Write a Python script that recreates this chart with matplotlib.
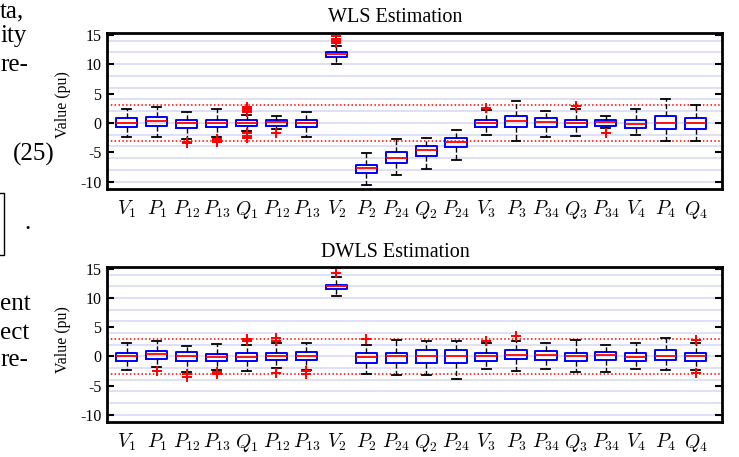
import matplotlib
matplotlib.use('Agg')
import matplotlib.pyplot as plt
from matplotlib.lines import Line2D

plt.rcParams['font.family'] = ['Liberation Serif', 'DejaVu Serif']
plt.rcParams['mathtext.fontset'] = 'cm'

labels = [r'$V_1$', r'$P_1$', r'$P_{12}$', r'$P_{13}$', r'$Q_1$', r'$P_{12}$', r'$P_{13}$',
          r'$V_2$', r'$P_2$', r'$P_{24}$', r'$Q_2$', r'$P_{24}$', r'$V_3$', r'$P_3$',
          r'$P_{34}$', r'$Q_3$', r'$P_{34}$', r'$V_4$', r'$P_4$', r'$Q_4$']

# WLS estimation box statistics
wls_med = [0, 0.4, 0, 0, 0, 0.15, 0, 11.7, -7.7, -6.0, -4.65, -3.3, 0, 0.4, 0.17, 0, 0.17, -0.17, 0, 0]
wls_q1 = [-0.68, -0.45, -0.9, -0.74, -0.45, -0.45, -0.74, 11.25, -8.6, -6.8, -5.7, -4.1, -0.68, -0.74, -0.68, -0.68, -0.45, -0.85, -1.0, -1.0]
wls_q3 = [0.85, 1.02, 0.57, 0.57, 0.57, 0.45, 0.57, 12.1, -7.1, -5.0, -4.0, -2.55, 0.57, 1.14, 0.85, 0.57, 0.57, 0.57, 1.14, 0.85]
wls_lo = [-2.4, -2.4, -2.8, -2.4, -1.3, -1.0, -2.4, 10.05, -10.5, -8.9, -7.8, -6.25, -2.0, -3.0, -2.45, -2.15, -0.85, -2.0, -3.0, -3.0]
wls_hi = [2.4, 2.7, 1.8, 2.4, 1.4, 1.1, 1.8, 13.1, -5.2, -2.8, -2.55, -1.25, 2.2, 3.7, 2.0, 2.3, 1.1, 2.4, 4.15, 3.1]
wls_fliers = [[], [], [-3.2, -3.4], [-2.7, -3.0, -3.3], [1.9, 2.1, 2.3, 2.5, 2.7, -1.8, -2.2, -2.6],
              [-1.7], [], [13.6, 13.9, 14.3, 14.8], [], [], [], [], [2.55], [], [], [2.95],
              [-1.7], [], [], []]

# DWLS estimation box statistics
dwls_med = [0, 0.34, 0, -0.17, -0.17, 0, 0, 12.0, -0.17, 0, 0, 0, 0, 0.23, 0.23, 0, 0.23, -0.17, 0.06, 0]
dwls_q1 = [-0.86, -0.5, -0.86, -0.8, -0.86, -0.69, -0.69, 11.5, -1.1, -1.1, -1.1, -1.1, -0.86, -0.5, -0.69, -0.86, -0.69, -0.86, -0.69, -0.86]
dwls_q3 = [0.63, 0.97, 0.74, 0.46, 0.63, 0.63, 0.74, 12.3, 0.63, 0.63, 1.0, 1.0, 0.63, 1.0, 0.86, 0.63, 0.74, 0.63, 1.0, 0.63]
dwls_lo = [-2.4, -1.8, -2.7, -2.4, -2.55, -1.95, -2.3, 10.3, -3.1, -3.25, -3.25, -3.8, -2.1, -2.5, -2.1, -2.7, -2.7, -2.2, -2.3, -2.3]
dwls_hi = [2.3, 2.6, 1.7, 2.05, 1.9, 2.2, 2.3, 13.6, 1.9, 2.85, 2.6, 2.6, 2.2, 2.6, 2.2, 2.85, 1.9, 2.3, 3.1, 2.3]
dwls_fliers = [[], [-2.5], [-3.0, -3.5], [-2.6, -3.0], [2.6, 2.9], [2.6, 3.2, -2.85], [-2.5, -3.1],
               [14.3, 15.1], [3.0], [], [], [], [2.6], [3.4], [], [], [], [], [], [2.85, -2.85]]

yticks = [-10, -5, 0, 5, 10, 15]
ytick_labels = ['-10', '-5', '0', '5', '10', '15']
grid_levels = list(range(-10, 16, 2))
thresholds = [3, -3]

W, H = 739, 457
fig = plt.figure(figsize=(W / 100, H / 100), dpi=100)


def panel(rect, med, q1, q3, lo, hi, fl, title, title_y, ylabel_y):
    ax = fig.add_axes(rect)
    stats = [dict(med=m, q1=a, q3=b, whislo=l, whishi=h, fliers=f)
             for m, a, b, l, h, f in zip(med, q1, q3, lo, hi, fl)]
    ax.bxp(stats, positions=list(range(1, len(stats) + 1)), widths=0.71, capwidths=0.3,
           showfliers=True,
           boxprops=dict(color='#0000ff', lw=1.4),
           medianprops=dict(color='red', lw=1.3),
           whiskerprops=dict(color='black', ls='--', lw=1.0),
           capprops=dict(color='black', lw=1.3),
           flierprops=dict(marker='+', markeredgecolor='red', markersize=7, mew=1.4))
    for g in grid_levels:
        ax.axhline(g, color='#dcdcf6', lw=1.3, zorder=0)
    for t in thresholds:
        ax.axhline(t, color='red', ls=(0, (1, 1.5)), lw=1.1, zorder=1)
    ax.set_xlim(0.34, 20.88)
    ax.set_ylim(-11.25, 15.3)
    ax.set_xticks(list(range(1, len(labels) + 1)))
    ax.set_xticklabels(labels, fontsize=14)
    ax.set_yticks(yticks)
    ax.set_yticklabels(ytick_labels, fontsize=11.5)
    ax.tick_params(axis='y', direction='in', length=5, width=1.5, right=True, pad=4)
    ax.tick_params(axis='x', length=0, pad=7)
    for s in ax.spines.values():
        s.set_linewidth(2)
    fig.text(395 / W, 1 - title_y / H, title, fontsize=14.5, ha='center', va='baseline')
    fig.text(63 / W, 1 - ylabel_y / H, 'Value (pu)', fontsize=11.5, rotation=90,
             ha='center', va='center')
    return ax


panel([107 / W, 1 - 189 / H, 615 / W, 156 / H], wls_med, wls_q1, wls_q3, wls_lo, wls_hi,
      wls_fliers, 'WLS Estimation', 21.7, 104.5)
panel([107 / W, 1 - 422 / H, 615 / W, 155 / H], dwls_med, dwls_q1, dwls_q3, dwls_lo, dwls_hi,
      dwls_fliers, 'DWLS Estimation', 256.7, 340)

# surrounding paper text fragments
body = [('ta,', 0, 18), ('ity', 0, 42), ('re-', 0, 71), ('(25)', 12.7, 161),
        ('.', 24, 229), ('ent', 0, 310), ('ect', 0, 339), ('re-', 0, 366)]
for txt, x, y in body:
    fig.text(x / W, 1 - y / H, txt, fontsize=18, ha='left', va='baseline')

bx = [0, 3.5, 3.5, 0]
by = [192.5, 192.5, 255, 255]
fig.add_artist(Line2D([v / W for v in bx], [1 - v / H for v in by], color='black', lw=1.0))

fig.savefig('out.png', dpi=100)
